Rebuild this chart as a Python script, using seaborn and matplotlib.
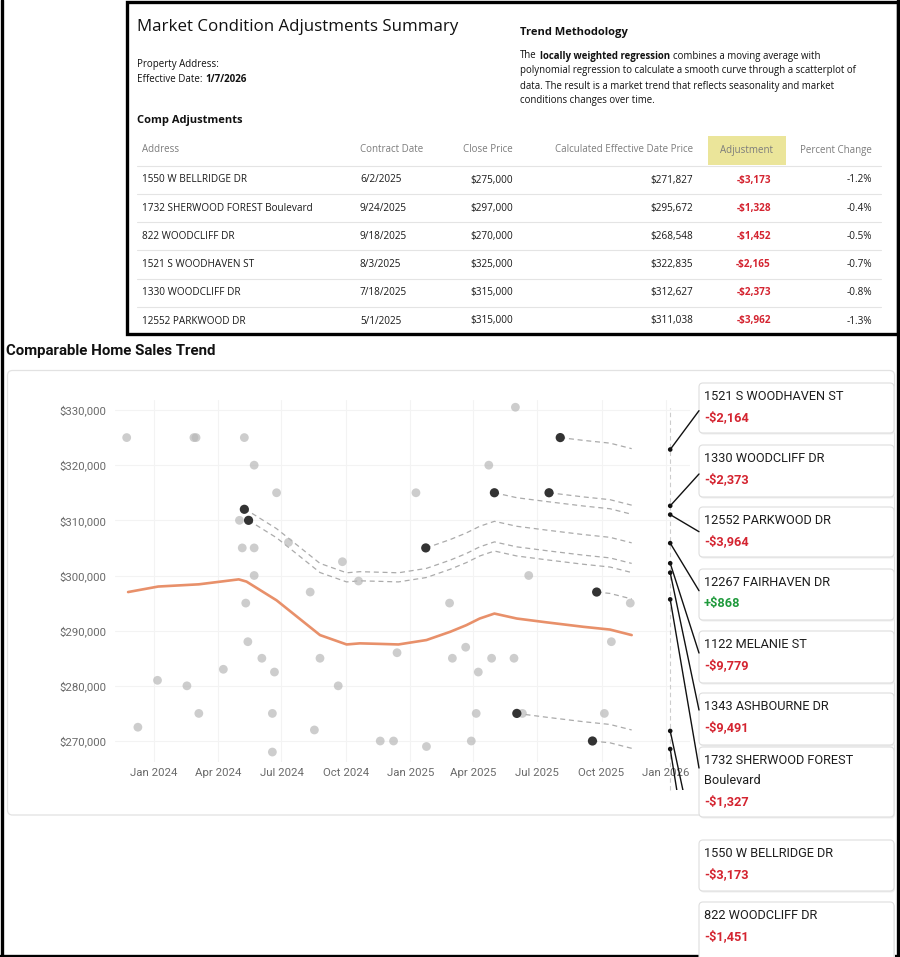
import numpy as np
import pandas as pd
import matplotlib
matplotlib.use("Agg")
import matplotlib.pyplot as plt
import matplotlib.dates as mdates
import matplotlib.ticker as mticker
from matplotlib import font_manager
from matplotlib.patches import FancyBboxPatch, Rectangle
import seaborn as sns

# ---- values ----
trend_dates = ["2023-11-25", "2024-01-07", "2024-03-05", "2024-05-01", "2024-05-12",
               "2024-06-24", "2024-08-25", "2024-10-02", "2024-10-21", "2024-11-19",
               "2024-12-15", "2025-01-24", "2025-02-27", "2025-03-22", "2025-04-10",
               "2025-05-01", "2025-06-02", "2025-07-15", "2025-09-05", "2025-10-13",
               "2025-11-13"]
trend_prices = [297000, 298000, 298400, 299300, 298900, 295500, 289200, 287500, 287700, 287600,
                287500, 288300, 289800, 291000, 292200, 293100, 292200, 291500, 290700, 290200,
                289200]

sale_dates = ["2023-11-23", "2023-12-09", "2024-01-06", "2024-02-17", "2024-02-27", "2024-03-01",
              "2024-03-05", "2024-04-09", "2024-05-09", "2024-05-02", "2024-05-23", "2024-05-06",
              "2024-05-23", "2024-05-23", "2024-05-11", "2024-05-14", "2024-06-03", "2024-06-21",
              "2024-06-18", "2024-06-18", "2024-06-24", "2024-07-11", "2024-08-11", "2024-08-17",
              "2024-08-25", "2024-09-20", "2024-09-26", "2024-10-19", "2024-11-19", "2024-12-08",
              "2024-12-13", "2025-01-09", "2025-01-24", "2025-02-26", "2025-03-02", "2025-03-21",
              "2025-03-29", "2025-04-05", "2025-04-08", "2025-04-23", "2025-04-27", "2025-05-29",
              "2025-05-31", "2025-06-10", "2025-06-19", "2025-10-05", "2025-10-15", "2025-11-11"]
sale_prices = [325000, 272500, 281000, 280000, 325000, 325000,
               275000, 283000, 325000, 310000, 320000, 305000,
               305000, 300000, 295000, 288000, 285000, 282500,
               275000, 268000, 315000, 306000, 297000, 272000,
               285000, 280000, 302500, 299000, 270000, 270000,
               286000, 315000, 269000, 295000, 285000, 287000,
               270000, 275000, 282500, 320000, 285000, 285000,
               330500, 275000, 300000, 275000, 288000, 295000]

comp_names = ["1521 S WOODHAVEN ST", "1330 WOODCLIFF DR", "12552 PARKWOOD DR", "12267 FAIRHAVEN DR",
              "1122 MELANIE ST", "1343 ASHBOURNE DR", "1732 SHERWOOD FOREST\nBoulevard",
              "1550 W BELLRIDGE DR", "822 WOODCLIFF DR"]
comp_dates = ["2025-08-03", "2025-07-18", "2025-05-01", "2025-01-23", "2024-05-09", "2024-05-15",
              "2025-09-24", "2025-06-02", "2025-09-18"]
comp_prices = [325000, 315000, 315000, 305000, 312000, 310000, 297000, 275000, 270000]
comp_adj = [-2164, -2373, -3964, 868, -9779, -9491, -1327, -3173, -1451]
effective_date = "2026-01-07"

tbl_address = ["1550 W BELLRIDGE DR", "1732 SHERWOOD FOREST Boulevard", "822 WOODCLIFF DR",
               "1521 S WOODHAVEN ST", "1330 WOODCLIFF DR", "12552 PARKWOOD DR"]
tbl_contract = ["6/2/2025", "9/24/2025", "9/18/2025", "8/3/2025", "7/18/2025", "5/1/2025"]
tbl_close = [275000, 297000, 270000, 325000, 315000, 315000]
tbl_effective = [271827, 295672, 268548, 322835, 312627, 311038]
tbl_adjust = [-3173, -1328, -1452, -2165, -2373, -3962]
tbl_pct = [-1.2, -0.4, -0.5, -0.7, -0.8, -1.3]


def pick(*names):
    for n in names:
        try:
            font_manager.findfont(n, fallback_to_default=False)
            return n
        except ValueError:
            pass
    return "DejaVu Sans"


def money(v, sign=False):
    s = "${:,.0f}".format(abs(v))
    if v < 0:
        return "-" + s
    return "+" + s if sign else s


RED, GREEN = "#d42430", "#1f9a3c"
sns.set_style("white")
FONT_UI = pick("Open Sans", "Noto Sans", "Lato")
FONT_CH = pick("Liberation Sans Narrow", "Roboto", "Noto Sans")
plt.rcParams["font.family"] = [FONT_CH, "DejaVu Sans"]

W, H = 900, 957
fig = plt.figure(figsize=(W / 100, H / 100), dpi=100)
bg = fig.add_axes([0, 0, 1, 1], zorder=0)
bg.set_xlim(0, W); bg.set_ylim(H, 0); bg.axis("off")
rend = fig.canvas.get_renderer()


def runs(x, y, parts, fontsize, **kw):
    # draw text pieces of mixed weight on one line
    space = 0.34 * fontsize * 100 / 72
    for s, w in parts:
        t = bg.text(x, y, s, fontweight=w, va="center", fontsize=fontsize, **kw)
        x += t.get_window_extent(rend).width + space


# ---- top summary panel ----
bg.add_patch(Rectangle((126.5, 1.5), 771, 332.5, fill=False, ec="black", lw=2.4))
ui = dict(family=[FONT_UI, "DejaVu Sans"], color="#111111")
bg.text(137, 27, "Market Condition Adjustments Summary", fontsize=12.2, va="center", **ui)
bg.text(137, 64, "Property Address:", fontsize=7, va="center", **ui)
runs(137, 79, [("Effective Date:", "normal"), ("1/7/2026", "bold")], 7, **ui)
bg.text(137, 121, "Comp Adjustments", fontsize=8, fontweight="bold", va="center", **ui)
bg.text(520, 33, "Trend Methodology", fontsize=8, fontweight="bold", va="center", **ui)
para = [[("The", "normal"), ("locally weighted regression", "bold"),
         ("combines a moving average with", "normal")],
        [("polynomial regression to calculate a smooth curve through a scatterplot of", "normal")],
        [("data. The result is a market trend that reflects seasonality and market", "normal")],
        [("conditions changes over time.", "normal")]]
for i, line in enumerate(para):
    runs(520, 56 + 15 * i, line, 6.9, **ui)

bg.add_patch(Rectangle((708, 136), 78, 29, fc="#ebe59a", ec="none"))
hdr = dict(family=[FONT_UI, "DejaVu Sans"], color="#7c7c7c", fontsize=7, va="center")
bg.text(142, 150, "Address", ha="left", **hdr)
bg.text(360, 150, "Contract Date", ha="left", **hdr)
bg.text(513, 150, "Close Price", ha="right", **hdr)
bg.text(693, 150, "Calculated Effective Date Price", ha="right", **hdr)
bg.text(747, 150, "Adjustment", ha="center", **hdr)
bg.text(872, 150, "Percent Change", ha="right", **hdr)
cell = dict(family=[FONT_UI, "DejaVu Sans"], color="#1a1a1a", fontsize=7.2, va="center")
for i in range(len(tbl_address)):
    yy = 180 + 28.2 * i
    bg.plot([137, 881], [yy - 14.3, yy - 14.3], color="#e4e4e4", lw=0.8)
    bg.text(142, yy, tbl_address[i], ha="left", **cell)
    bg.text(360, yy, tbl_contract[i], ha="left", **cell)
    bg.text(513, yy, money(tbl_close[i]), ha="right", **cell)
    bg.text(693, yy, money(tbl_effective[i]), ha="right", **cell)
    bg.text(771, yy, money(tbl_adjust[i]), ha="right", fontweight="bold",
            **{**cell, "color": RED})
    bg.text(872, yy, "{:.1f}%".format(tbl_pct[i]), ha="right", **cell)

# ---- page frame + chart panel ----
bg.plot([1.5, 1.5], [0, H], color="black", lw=2.4)
bg.plot([0, W], [955.5, 955.5], color="black", lw=2.4)
bg.plot([898, 898], [0, H], color="black", lw=2.4)
bg.text(6, 351, "Comparable Home Sales Trend", fontsize=10.8, fontweight="bold",
        va="center", color="#111111")
bg.add_patch(FancyBboxPatch((7.5, 370.5), 887, 444.5, boxstyle="round,pad=0,rounding_size=5",
                            fc="white", ec="#e2e2e2", lw=0.9))

# ---- trend chart ----
L, R, T, B = 115, 690, 400, 762
ax = fig.add_axes([L / W, 1 - B / H, (R - L) / W, (B - T) / H], zorder=1)
ax.patch.set_alpha(0)

tdates = pd.to_datetime(trend_dates)
cdates = pd.to_datetime(comp_dates)
sns.scatterplot(x=pd.to_datetime(sale_dates), y=sale_prices, ax=ax, color="#b8b8b8",
                alpha=0.7, s=40, edgecolor="none", zorder=3)

tnum = mdates.date2num(tdates)
tval = np.array(trend_prices, dtype=float)
for d, p in zip(cdates, comp_prices):
    dn = mdates.date2num(d)
    off = p - np.interp(dn, tnum, tval)
    keep = tnum > dn
    ax.plot(np.r_[dn, tnum[keep]], np.r_[p, tval[keep] + off], color="#ababab", lw=0.9,
            ls=(0, (4, 3)), zorder=2)

sns.lineplot(x=tdates, y=trend_prices, ax=ax, color="#e8906a", lw=1.9, estimator=None,
             sort=False, zorder=4)
sns.scatterplot(x=cdates, y=comp_prices, ax=ax, color="#333333", s=44, edgecolor="none",
                zorder=5)

eff = pd.Timestamp(effective_date)
eff_prices = [p + a for p, a in zip(comp_prices, comp_adj)]
sns.scatterplot(x=[eff] * len(eff_prices), y=eff_prices, ax=ax, color="#111111", s=11,
                edgecolor="none", zorder=6)

d0 = mdates.date2num(pd.Timestamp("2024-01-01"))
d1 = mdates.date2num(pd.Timestamp("2026-01-01"))
per_px = (d1 - d0) / (666 - 154)
ax.set_xlim(d0 + (L - 154) * per_px, d0 + (R - 154) * per_px)
v_per_px = 60000 / (741 - 410)
ax.set_ylim(330000 - (B - 410) * v_per_px, 330000 + (410 - T) * v_per_px)
ax.axvline(eff, ymin=(B - 790) / (B - T), ymax=(B - 408) / (B - T), clip_on=False,
           color="#cccccc", lw=0.8, ls=(0, (4, 3)), zorder=1)

ax.set_xticks(pd.date_range("2024-01-01", "2026-01-01", freq="QS"))
ax.xaxis.set_major_formatter(mdates.DateFormatter("%b %Y"))
ax.set_yticks(range(270000, 330001, 10000))
ax.yaxis.set_major_formatter(mticker.FuncFormatter(lambda v, _: "${:,.0f}".format(v)))
ax.grid(True, color="#f3f3f3", lw=0.8)
ax.set_axisbelow(True)
for s in ax.spines.values():
    s.set_visible(False)
ax.tick_params(axis="both", length=0, labelsize=8.2, labelcolor="#6a6a6a")
ax.tick_params(axis="y", pad=6.5)
ax.tick_params(axis="x", pad=4.5)
ax.set_xlabel(""); ax.set_ylabel("")

# ---- callout boxes ----
fg = fig.add_axes([0, 0, 1, 1], zorder=2)
fg.set_xlim(0, W); fg.set_ylim(H, 0); fg.axis("off"); fg.patch.set_alpha(0)
box_top = [383, 445, 507, 569, 631, 693, 747, 840, 902]
box_h = [50, 52, 50, 51, 52, 52, 70, 51, 60]
anchor_y = [410.7, 474, 531.7, 590.7, 653, 710, 768, 865, 928]
clip = Rectangle((0, 0), W, 790, transform=fg.transData)
to_fg = fg.transData.inverted()
effn = mdates.date2num(eff)
for i, name in enumerate(comp_names):
    top = box_top[i]
    fg.add_patch(FancyBboxPatch((700, top + 1.5), 195, box_h[i], fc="#efefef", ec="none",
                                boxstyle="round,pad=0,rounding_size=4"))
    fg.add_patch(FancyBboxPatch((699, top), 195, box_h[i], fc="white", ec="#dedede", lw=0.8,
                                boxstyle="round,pad=0,rounding_size=4"))
    lines = name.split("\n")
    for j, ln in enumerate(lines):
        fg.text(704, top + 13.5 + 20 * j, ln, fontsize=9.2, va="center", color="#1e1e1e")
    adj = comp_adj[i]
    fg.text(704, top + 35 + 20 * (len(lines) - 1), money(adj, sign=True), fontsize=9.2,
            fontweight="bold", va="center", color=GREEN if adj > 0 else RED)
    x0, y0 = to_fg.transform(ax.transData.transform((effn, eff_prices[i])))
    ln_, = fg.plot([x0, 699], [y0, anchor_y[i]], color="#111111", lw=1.0)
    ln_.set_clip_path(clip)

fig.savefig("out.png", dpi=100, facecolor="white")
